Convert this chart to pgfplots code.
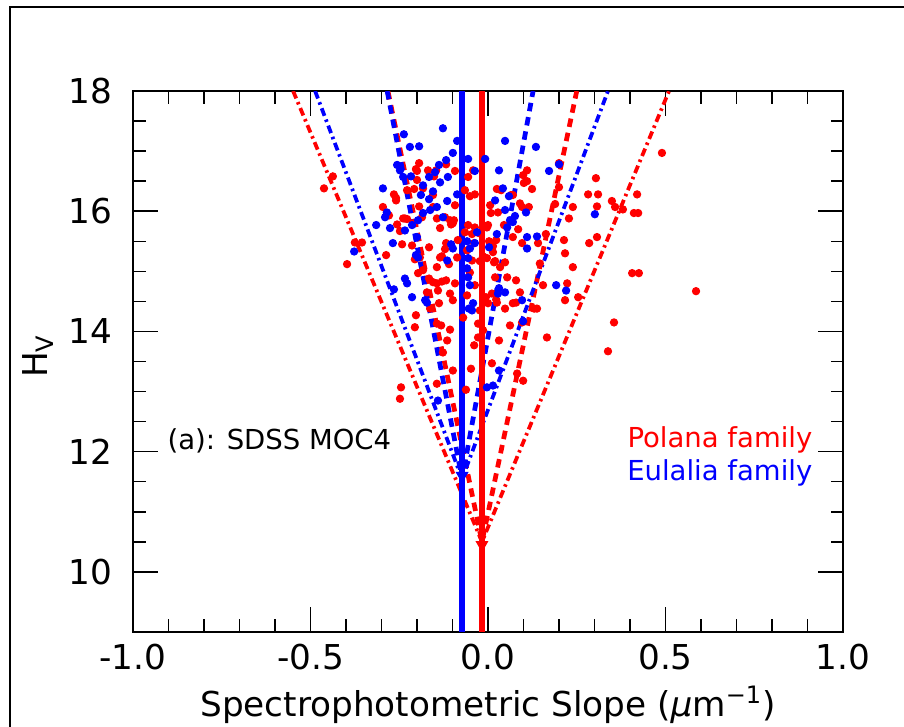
\documentclass[border=0pt]{standalone}
\usepackage{fontspec}
\setmainfont{DejaVu Sans}
\usepackage{pgfplots}
\pgfplotsset{compat=1.18}
\newcommand\lab{\fontsize{13.7}{16}\selectfont}
\newcommand\ann{\fontsize{11}{13}\selectfont}
\definecolor{pr}{RGB}{255,0,0}
\definecolor{pb}{RGB}{0,0,255}
\begin{document}
\begin{tikzpicture}[x=1pt,y=1pt]
\useasboundingbox (-53.2,-38) rectangle (308.4,252.8);
\draw[line width=0.8pt] (-49.2,-45) -- (-49.2,250) -- (320,250);
\begin{axis}[
  at={(0,0)}, anchor=south west,
  scale only axis, width=284pt, height=216.4pt,
  xmin=-1, xmax=1, ymin=9, ymax=18,
  xtick={-1,-0.5,0,0.5,1}, minor x tick num=4,
  ytick={10,12,14,16,18}, minor y tick num=3,
  tick align=inside, major tick length=10pt, minor tick length=5pt,
  axis line style={line width=0.8pt},
  every tick/.style={black, line width=0.6pt},
  /pgf/number format/assume math mode=true,
  tick label style={font=\lab, inner sep=0pt},
  x tick label style={/pgf/number format/fixed, /pgf/number format/fixed zerofill, /pgf/number format/precision=1, anchor=base, yshift=-15.2pt},
  y tick label style={anchor=east, xshift=-8pt},
  xlabel={Spectrophotometric Slope (\textit{μ}m\textsuperscript{−1})},
  every axis x label/.style={at={(rel axis cs:0.5,0)}, anchor=base, yshift=-34pt, font=\lab},
  ylabel={H\textsubscript{V}},
  every axis y label/.style={at={(rel axis cs:0,0.51)}, xshift=-38pt, rotate=90, anchor=center, font=\lab},
]
% Polana family points
\addplot[only marks, mark=*, mark size=1.45pt, color=pr] table {
x y
-0.194 16.80
-0.200 16.67
-0.169 16.68
-0.118 16.78
-0.093 16.67
-0.056 16.57
-0.037 16.28
0.025 16.37
0.110 16.68
0.101 16.47
0.124 16.37
0.070 16.27
0.096 16.07
0.028 15.98
0.045 15.77
0.000 15.77
0.070 15.57
0.096 15.47
0.023 15.52
-0.003 15.22
0.017 15.15
0.034 15.07
0.054 14.90
0.090 14.65
0.070 14.47
0.023 14.53
0.000 14.47
-0.087 15.23
-0.118 15.47
-0.135 15.23
-0.144 15.07
-0.166 14.88
-0.172 14.65
-0.138 14.47
-0.183 15.02
-0.192 15.23
-0.214 15.43
-0.248 15.67
-0.239 15.88
-0.279 15.93
-0.296 16.07
-0.259 16.22
-0.228 16.35
-0.200 16.52
-0.155 16.27
-0.135 15.72
-0.107 15.85
-0.093 16.10
-0.099 15.80
-0.085 15.52
-0.059 15.35
-0.045 15.18
-0.051 14.98
-0.037 14.77
-0.059 14.60
-0.093 14.80
-0.118 14.85
-0.144 14.80
-0.355 15.48
-0.397 15.12
-0.146 16.68
-0.152 16.58
-0.183 16.38
-0.194 16.08
-0.155 16.07
-0.234 15.88
-0.211 15.80
-0.186 15.90
-0.144 15.88
-0.104 15.78
-0.121 15.90
-0.206 15.20
-0.197 14.97
-0.166 15.40
-0.130 15.25
-0.121 15.37
-0.110 15.12
-0.155 14.82
-0.130 14.83
-0.141 14.68
-0.107 14.63
-0.042 16.68
-0.065 16.35
-0.051 16.25
-0.056 15.77
-0.037 15.73
-0.045 15.62
-0.039 15.47
0.006 16.10
0.008 15.97
-0.003 15.73
0.003 15.50
0.014 15.42
0.014 15.32
0.037 16.35
0.065 16.27
0.090 16.13
0.085 15.70
0.048 15.15
0.020 15.17
0.079 14.85
0.099 16.60
0.110 16.50
-0.023 15.17
-0.014 15.25
-0.065 15.65
-0.096 15.85
-0.023 15.63
0.020 14.90
-0.006 14.57
0.011 14.63
-0.228 15.87
-0.256 15.78
-0.265 16.28
-0.259 16.18
-0.208 16.37
-0.203 16.70
-0.242 15.45
-0.287 15.27
-0.375 15.48
-0.462 16.38
-0.437 16.58
0.200 16.80
0.200 16.40
0.189 16.12
0.228 15.88
0.239 16.07
0.214 15.52
0.217 15.30
0.163 15.62
0.141 15.47
0.239 15.07
0.223 14.80
0.217 14.52
0.146 15.13
0.155 14.77
0.138 14.38
0.166 13.90
0.115 16.07
-0.107 14.03
-0.144 14.13
-0.203 14.27
-0.206 14.07
-0.163 14.38
-0.023 14.35
-0.028 14.13
-0.014 14.02
0.062 14.10
-0.070 14.23
-0.099 14.52
0.490 16.97
0.304 16.55
0.282 16.28
0.310 16.28
0.307 16.08
0.349 16.17
0.358 16.07
0.380 16.03
0.420 16.28
0.411 15.97
0.423 15.97
0.285 15.47
0.307 15.57
0.406 14.97
0.425 14.97
0.254 14.57
0.586 14.67
0.355 14.15
0.338 13.67
-0.245 13.07
-0.248 12.88
-0.115 13.85
-0.127 13.65
-0.144 13.13
-0.062 13.03
-0.048 13.38
-0.039 13.77
-0.028 13.90
0.011 13.47
0.031 13.85
0.099 13.18
0.082 13.30
-0.099 13.35
-0.132 14.10
0.025 14.48
0.048 14.38
0.079 14.48
0.096 14.15
0.130 14.38
};
% Eulalia family points
\addplot[only marks, mark=*, mark size=1.45pt, color=pb] table {
x y
-0.127 17.38
-0.087 17.17
-0.237 17.28
-0.220 17.07
-0.194 17.08
-0.099 16.97
-0.118 16.85
-0.138 16.77
-0.166 16.57
-0.149 16.65
-0.135 16.48
-0.113 16.57
-0.256 16.77
-0.239 16.57
-0.217 16.58
-0.296 16.38
-0.183 16.43
-0.155 16.33
-0.189 16.27
-0.166 16.20
-0.144 16.07
-0.115 16.17
-0.087 16.28
-0.037 16.67
0.031 16.68
0.042 16.38
0.020 16.18
0.048 16.02
0.062 15.85
0.054 15.73
0.110 15.57
0.110 15.38
-0.031 15.65
-0.037 15.47
-0.051 15.38
-0.127 15.90
-0.163 16.02
-0.183 15.97
-0.197 15.85
-0.214 15.77
-0.200 15.57
-0.234 15.68
-0.276 15.72
-0.290 15.90
-0.315 15.77
-0.268 15.47
-0.115 15.18
-0.099 15.38
-0.197 15.23
-0.234 14.88
-0.214 14.57
-0.172 14.48
-0.056 14.90
-0.051 14.77
-0.042 14.47
-0.059 15.05
0.031 14.72
0.048 14.65
0.096 14.52
-0.056 15.22
0.048 17.17
0.135 17.07
0.172 16.67
0.200 16.78
0.301 15.95
0.192 14.77
0.220 14.68
0.138 15.58
-0.377 15.33
-0.248 16.68
-0.285 15.98
-0.265 14.70
-0.177 14.52
0.099 14.17
-0.056 16.87
-0.008 16.87
-0.141 12.85
-0.003 13.07
0.014 13.10
0.031 13.35
-0.054 14.38
0.028 14.63
0.059 16.25
0.076 15.92
0.107 15.98
-0.104 15.45
-0.059 15.50
0.003 15.40
0.025 15.62
0.070 15.82
-0.228 14.80
-0.045 14.35
-0.203 15.27
};
% V-shape boundaries
\addplot[color=pr, line width=1.9pt, dash pattern=on 3.4pt off 2.4pt] coordinates {(-0.282,18) (-0.017,10.5) (0.250,18)};
\addplot[color=pr, line width=1.5pt, dash pattern=on 3.2pt off 1.6pt on 1pt off 1.6pt] coordinates {(-0.549,18) (-0.017,10.5) (0.510,18)};
\addplot[color=pb, line width=1.9pt, dash pattern=on 3.4pt off 2.4pt] coordinates {(-0.284,18) (-0.073,11.55) (0.127,18)};
\addplot[color=pb, line width=1.5pt, dash pattern=on 3.2pt off 1.6pt on 1pt off 1.6pt] coordinates {(-0.487,18) (-0.073,11.55) (0.338,18)};
% family centres
\addplot[color=pb, line width=2.3pt] coordinates {(-0.073,9) (-0.073,18)};
\addplot[color=pr, line width=2.3pt] coordinates {(-0.017,9) (-0.017,18)};
\addplot[only marks, mark=triangle*, mark size=2.6pt, color=pb, mark options={rotate=180}] coordinates {(-0.073,11.6)};
\addplot[only marks, mark=triangle*, mark size=2.6pt, color=pr, mark options={rotate=180}] coordinates {(-0.017,10.45)};
\node[anchor=base west, font=\ann, inner sep=0pt] at (axis cs:-0.904,12.03) {(a): SDSS MOC4};
\node[anchor=base east, font=\ann, inner sep=0pt, text=pr] at (axis cs:0.915,12.07) {Polana family};
\node[anchor=base east, font=\ann, inner sep=0pt, text=pb] at (axis cs:0.915,11.52) {Eulalia family};
\end{axis}
\end{tikzpicture}
\end{document}
